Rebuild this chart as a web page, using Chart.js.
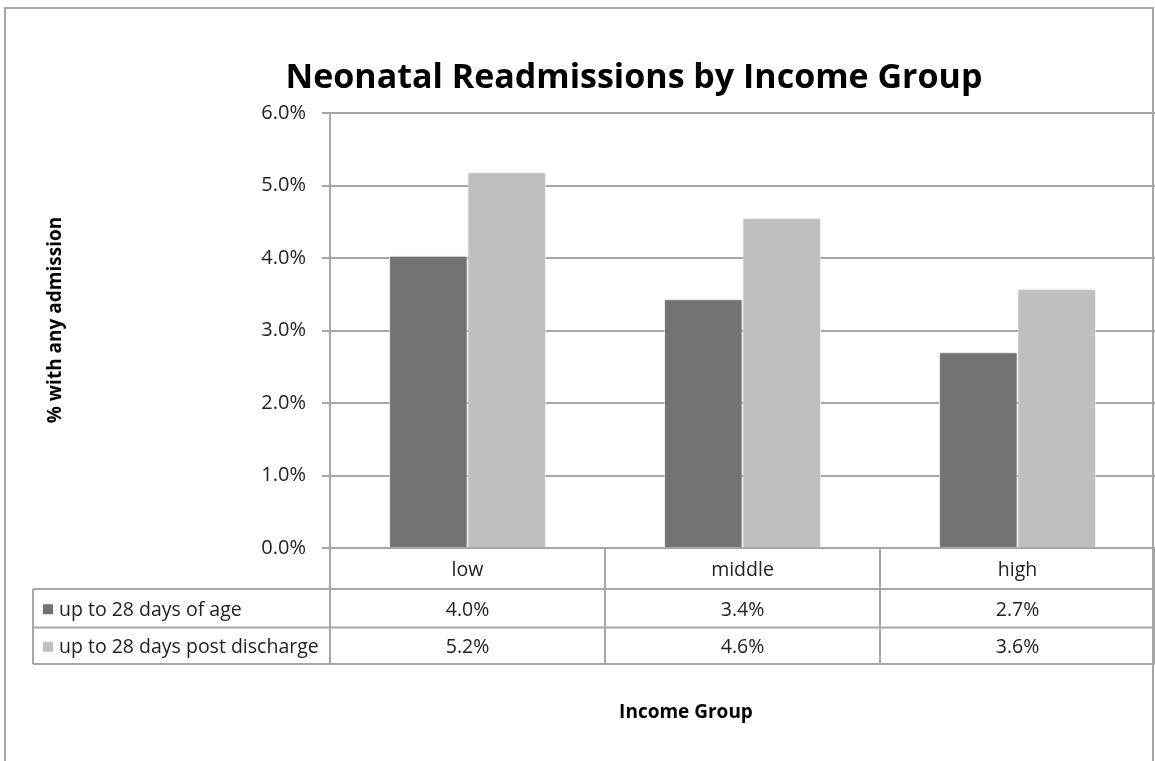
<!DOCTYPE html>
<html>
<head>
<meta charset="utf-8">
<script src="https://cdn.jsdelivr.net/npm/chart.js@4"></script>
<style>
  body { margin: 0; background: #fff; }
  #wrap { width: 1155px; height: 761px; }
</style>
</head>
<body>
<div id="wrap"><canvas id="myChart1" width="1155" height="761"></canvas></div>
<script>
  // Data
  const categories = ['low', 'middle', 'high'];
  const seriesNames = ['up to 28 days of age', 'up to 28 days post discharge'];
  const ageValues = [4.03, 3.43, 2.70];
  const dischargeValues = [5.18, 4.55, 3.57];
  const yTicks = [0, 1, 2, 3, 4, 5, 6];
  const chartTitle = 'Neonatal Readmissions by Income Group';
  const yTitle = '% with any admission';
  const xTitle = 'Income Group';

  const colors = ['#737373', '#bfbfbf'];
  const FONT = '"Open Sans", sans-serif';
  const fmt = v => (Math.round(v * 10) / 10).toFixed(1) + '%';

  // Frame, titles and the data table under the plot
  const tablePlugin = {
    id: 'tablePlugin',
    beforeDatasetsDraw(chart) {
      const ctx = chart.ctx;
      ctx.save();
      ctx.shadowColor = 'rgba(0,0,0,0.25)';
      ctx.shadowBlur = 3;
    },
    afterDatasetsDraw(chart) {
      chart.ctx.restore();
    },
    afterDraw(chart) {
      const ctx = chart.ctx;
      const area = chart.chartArea;
      const x = chart.scales.x;
      const top = area.bottom;
      const rowLines = [top, 589, 627.5, 664];
      const tableLeft = 33;
      ctx.save();

      // outer frame
      ctx.strokeStyle = '#a6a6a6';
      ctx.lineWidth = 2;
      ctx.strokeRect(5, 8, 1148, 800);

      // title
      ctx.fillStyle = '#000';
      ctx.font = 'bold 34px ' + FONT;
      ctx.textAlign = 'center';
      ctx.textBaseline = 'middle';
      ctx.fillText(chartTitle, 634, 78);

      // axis titles
      ctx.font = 'bold 19px ' + FONT;
      ctx.fillText(xTitle, 686, 713);
      ctx.save();
      ctx.translate(56, 320);
      ctx.rotate(-Math.PI / 2);
      ctx.fillText(yTitle, 0, 0);
      ctx.restore();

      // table grid
      ctx.strokeStyle = '#a6a6a6';
      ctx.lineWidth = 2;
      ctx.beginPath();
      for (let r = 1; r <= 3; r++) {
        ctx.moveTo(tableLeft, rowLines[r]);
        ctx.lineTo(area.right, rowLines[r]);
      }
      ctx.moveTo(tableLeft, rowLines[1]);
      ctx.lineTo(tableLeft, rowLines[3]);
      const step = (area.right - area.left) / categories.length;
      for (let i = 0; i <= categories.length; i++) {
        const vx = Math.min(area.left + step * i, area.right - 1);
        ctx.moveTo(vx, top);
        ctx.lineTo(vx, rowLines[3]);
      }
      ctx.stroke();

      // table text
      const mid = r => (rowLines[r] + rowLines[r + 1]) / 2 + 2;
      ctx.fillStyle = '#222';
      ctx.font = '19.5px ' + FONT;
      ctx.textAlign = 'center';
      const rows = [ageValues, dischargeValues];
      categories.forEach((c, i) => {
        const cx = x.getPixelForValue(i);
        ctx.fillText(c, cx, mid(0));
        rows.forEach((vals, r) => {
          ctx.fillText(fmt(vals[i]), cx, mid(r + 1));
        });
      });
      // legend cells
      ctx.textAlign = 'left';
      seriesNames.forEach((name, r) => {
        const cy = mid(r + 1);
        ctx.fillStyle = colors[r];
        ctx.fillRect(43, cy - 6, 10, 10);
        ctx.fillStyle = '#222';
        ctx.fillText(name, 59, cy);
      });
      ctx.restore();
    }
  };

  const config1 = {
    type: 'bar',
    data: {
      labels: categories,
      datasets: [
        {
          label: seriesNames[0],
          data: ageValues,
          backgroundColor: colors[0],
          borderColor: '#ffffff',
          borderWidth: 1,
          barPercentage: 1,
          categoryPercentage: 0.57
        },
        {
          label: seriesNames[1],
          data: dischargeValues,
          backgroundColor: colors[1],
          borderColor: '#ffffff',
          borderWidth: 1,
          barPercentage: 1,
          categoryPercentage: 0.57
        }
      ]
    },
    options: {
      responsive: false,
      animation: false,
      layout: { padding: { top: 113, bottom: 213, left: 0, right: 0 } },
      plugins: {
        legend: { display: false },
        title: { display: false },
        tooltip: { enabled: false }
      },
      scales: {
        x: { display: false },
        y: {
          min: 0,
          max: 6,
          afterFit(scale) { scale.width = 330; },
          afterBuildTicks(scale) { scale.ticks = yTicks.map(v => ({ value: v })); },
          border: { color: '#a6a6a6', width: 2 },
          grid: { color: '#a6a6a6', lineWidth: 2, tickLength: 8 },
          ticks: {
            padding: 16,
            color: '#222',
            font: { family: FONT, size: 20 },
            callback: v => v.toFixed(1) + '%'
          }
        }
      }
    },
    plugins: [tablePlugin]
  };

  const ctx = document.getElementById('myChart1').getContext('2d');
  const myChart1 = new Chart(ctx, config1);
</script>
</body>
</html>
